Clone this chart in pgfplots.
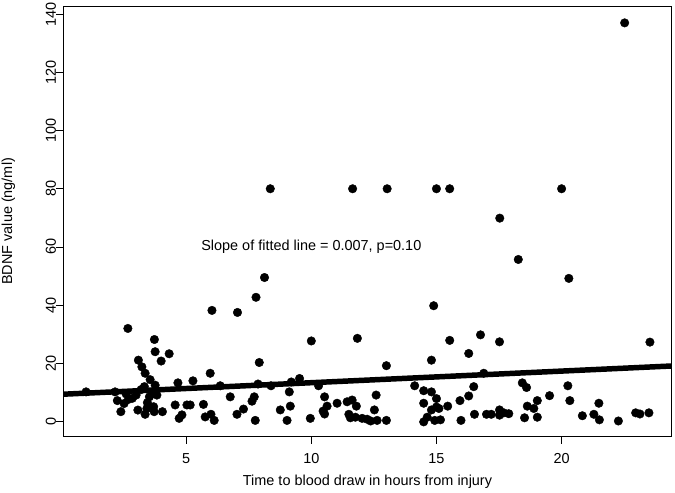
\documentclass[border=0pt]{standalone}
\usepackage{pgfplots}
\pgfplotsset{compat=1.18}
\usepackage{fontspec}
\setmainfont{Liberation Sans}
\begin{document}
\fontsize{14.5}{17}\selectfont
\begin{tikzpicture}
\begin{axis}[
  scale only axis,
  width=608.4bp, height=430.7bp,
  xmin=0.09, xmax=24.4, ymin=-5.2, ymax=142.8,
  xtick={5,10,15,20}, ytick={0,20,...,140},
  xtick pos=left, ytick pos=left,
  tick align=outside,
  major tick length=7bp,
  tick style={black, line width=0.8bp},
  axis line style={line width=0.9bp},
  /pgf/number format/assume math mode=true,
  ticklabel style={font=\fontsize{14.5}{17}\selectfont},
  yticklabel style={rotate=90, anchor=south, inner sep=0pt},
  xticklabel style={anchor=north, inner sep=0pt},
  xticklabel shift=10bp,
  yticklabel shift=0bp,
  xlabel={Time to blood draw in hours from injury},
  ylabel={BDNF value (ng/ml)},
  xlabel style={at={(axis description cs:0.5,-0.1045)}, anchor=center, inner sep=0pt},
  ylabel style={at={(axis description cs:-0.0904,0.5)}, anchor=center, inner sep=0pt},
  clip=true,
]
\addplot[black, line width=5.5pt] coordinates {(0.09,9.4) (24.4,19.1)};
\addplot[only marks, mark=*, mark size=4.3pt, black] coordinates {
(1.0,10.2) (2.16,10.2) (2.25,7.2) (2.39,3.4) (2.52,6.2) (2.67,32.0) (2.69,7.6)
(2.6,9.5) (2.85,8.0) (3.0,9.1) (3.09,21.1) (3.23,18.8) (3.36,16.6) (3.56,14.4)
(3.33,12.0) (3.07,3.95) (3.36,2.5) (3.43,4.5) (3.7,5.1) (3.73,28.2) (3.76,24.0)
(3.76,12.5) (3.69,9.7) (3.83,9.1) (3.53,8.5) (3.72,3.4) (4.05,3.4) (4.0,20.8)
(4.32,23.3) (3.2,11.0) (3.45,6.5) (4.56,5.7) (4.67,13.3) (4.72,1.1) (4.83,2.3)
(5.03,5.7) (5.16,5.7) (5.27,14.0) (5.69,5.9) (5.76,1.6) (5.96,16.6) (5.99,2.5)
(6.12,0.4) (6.03,38.2) (6.36,12.3) (6.76,8.5) (7.03,2.5) (7.05,37.5) (7.29,4.3)
(7.63,7.0) (7.72,8.5) (7.76,0.4) (7.79,42.7) (7.92,20.3) (7.87,12.9) (8.13,49.5)
(8.36,80) (8.39,12.3) (8.76,4.0) (9.03,0.4) (9.12,10.2) (9.16,5.3) (9.2,13.6)
(9.53,14.8) (9.96,1.1) (10.0,27.7) (10.29,12.3) (10.53,8.5) (10.63,5.3) (10.47,3.6)
(10.53,2.6) (11.03,6.3) (11.43,6.8) (11.63,7.4) (11.8,5.3) (11.5,2.5) (11.56,1.3)
(11.84,28.6) (11.65,80) (11.76,1.5) (12.03,1.1) (12.23,0.8) (12.37,0.2) (12.59,9.1)
(12.52,4.0) (12.63,0.4) (13.0,0.4) (13.0,19.2) (13.03,80) (14.13,12.3) (14.49,10.6)
(14.8,10.2) (14.8,21.1) (14.89,39.8) (14.49,6.3) (14.63,1.5) (14.49,-0.1) (14.8,4.0)
(15.0,7.9) (15.0,5.0) (14.93,0.4) (15.16,0.6) (15.1,4.5) (15.0,80) (15.53,80)
(15.45,5.3) (15.53,27.9) (15.94,7.2) (15.98,0.4) (16.29,8.8) (16.29,23.4) (16.49,12.0)
(16.52,2.5) (16.76,29.8) (16.89,16.6) (17.0,2.5) (17.19,2.5) (17.52,27.4) (17.53,69.9)
(17.52,4.0) (17.52,2.2) (17.69,3.0) (17.89,2.7) (18.27,55.7) (18.43,13.3) (18.6,11.7)
(18.63,5.3) (18.52,1.3) (18.89,4.5) (19.03,7.2) (19.03,1.5) (19.52,8.9) (20.0,80)
(20.25,12.3) (20.29,49.2) (20.33,7.2) (20.83,2.0) (21.29,2.5) (21.49,6.3) (21.51,0.6)
(22.27,0.2) (22.52,137) (22.96,3.0) (23.13,2.6) (23.49,3.0) (23.53,27.3)
};
\node[anchor=center, font=\fontsize{14.5}{17}\selectfont] at (axis cs:10,60) {Slope of fitted line = 0.007, p=0.10};
\end{axis}
\pgfresetboundingbox
\path (-63.3bp,-56.3bp) rectangle (611.7bp,436.7bp);
\end{tikzpicture}
\end{document}
